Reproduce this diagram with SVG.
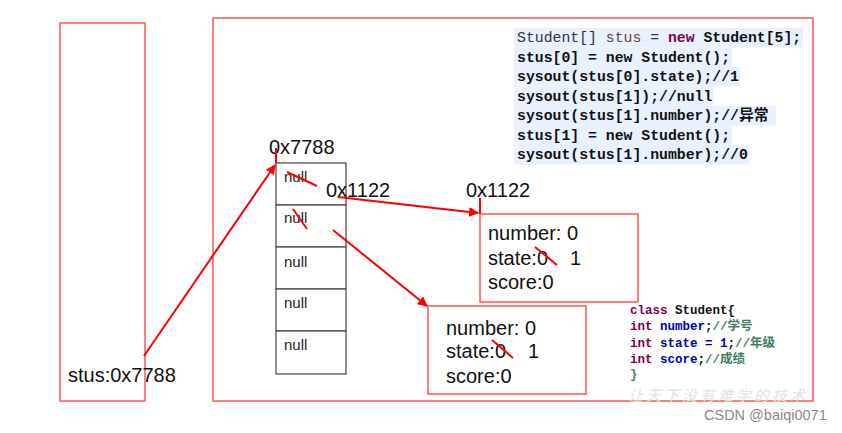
<svg xmlns="http://www.w3.org/2000/svg" width="842" height="433" viewBox="0 0 842 433">
<defs>
<marker id="ah" viewBox="0 0 10 10" refX="9" refY="5" markerWidth="5" markerHeight="5" orient="auto" markerUnits="strokeWidth">
<path d="M0,0 L10,5 L0,10 z" fill="#ff0000"/>
</marker>
<style>
.box{fill:none;stroke:#ff6060;stroke-width:1.6}
.cell{fill:#fff;stroke:#444;stroke-width:1.2}
.t{font-family:"Liberation Sans",Arial,sans-serif;font-size:20px;fill:#111}
.n{font-family:"Liberation Sans",Arial,sans-serif;font-size:15px;fill:#222}
.red{stroke:#ff0000;stroke-width:2;fill:none}
.code{font-family:"Liberation Mono","DejaVu Sans Mono","Noto Sans CJK SC",monospace;font-size:14.8px;font-weight:bold;fill:#111}
.cls{font-family:"Liberation Mono","DejaVu Sans Mono","Noto Sans CJK SC",monospace;font-size:12.5px;font-weight:bold;fill:#111}
.kw{fill:#7f0055}
.fld{fill:#0000c0}
.cm{fill:#3f7f5f}
.bg{fill:#e8f1fd}
</style>
</defs>
<rect width="842" height="433" fill="#fff"/>

<g id="stack">
<rect class="box" x="60" y="23" width="85" height="378"/>
<text class="t" x="68" y="382">stus:0x7788</text>
</g>

<g id="heap">
<rect class="box" x="213" y="18" width="600" height="383"/>
</g>

<g id="code">
<rect class="bg" x="514" y="28" width="289" height="19.5"/>
<rect class="bg" x="514" y="47.5" width="218" height="19.5"/>
<rect class="bg" x="514" y="67" width="226" height="19.5"/>
<rect class="bg" x="514" y="86.5" width="199" height="19.5"/>
<rect class="bg" x="514" y="106" width="262" height="19.5"/>
<rect class="bg" x="514" y="125.5" width="218" height="19.5"/>
<rect class="bg" x="514" y="145" width="235" height="19.5"/>
<text class="code" x="517" y="42"><tspan font-weight="normal" fill="#333">Student[] </tspan><tspan font-weight="normal" fill="#6a3e3e">stus</tspan><tspan font-weight="normal" fill="#333"> = </tspan><tspan class="kw">new</tspan> Student[5];</text>
<text class="code" x="517" y="61.5">stus[0] = new Student();</text>
<text class="code" x="517" y="81">sysout(stus[0].state);//1</text>
<text class="code" x="517" y="100.5">sysout(stus[1]);//null</text>
<text class="code" x="517" y="120">sysout(stus[1].number);//异常</text>
<text class="code" x="517" y="139.5">stus[1] = new Student();</text>
<text class="code" x="517" y="159">sysout(stus[1].number);//0</text>
</g>

<g id="array">
<text class="t" x="269" y="154">0x7788</text>
<rect class="cell" x="276" y="163" width="70" height="42"/>
<rect class="cell" x="276" y="205" width="70" height="42"/>
<rect class="cell" x="276" y="247" width="70" height="42"/>
<rect class="cell" x="276" y="289" width="70" height="42"/>
<rect class="cell" x="276" y="331" width="70" height="43"/>
<text class="n" x="284" y="182">null</text>
<text class="n" x="284" y="223">null</text>
<text class="n" x="284" y="267">null</text>
<text class="n" x="284" y="308">null</text>
<text class="n" x="284" y="350">null</text>
<line class="red" x1="287" y1="172" x2="317" y2="186"/>
<line class="red" x1="293" y1="209" x2="307" y2="229"/>
<text class="t" x="326" y="197">0x1122</text>
</g>

<g id="student1">
<text class="t" x="466" y="197">0x1122</text>
<rect class="box" x="480" y="214" width="158" height="88"/>
<text class="t" x="488" y="240">number: 0</text>
<text class="t" x="488" y="265">state:0</text>
<text class="t" x="570" y="265">1</text>
<text class="t" x="488" y="289">score:0</text>
<line class="red" x1="535" y1="247" x2="557" y2="265"/>
</g>

<g id="student2">
<rect class="box" x="428" y="306" width="158" height="88"/>
<text class="t" x="446" y="335">number: 0</text>
<text class="t" x="446" y="358">state:0</text>
<text class="t" x="528" y="358">1</text>
<text class="t" x="446" y="383">score:0</text>
<line class="red" x1="492" y1="340" x2="513" y2="358"/>
</g>

<g id="classdef">
<text class="cls" x="630" y="313.5"><tspan class="kw">class</tspan> Student{</text>
<text class="cls" x="630" y="330"><tspan class="kw">int</tspan> <tspan class="fld">number</tspan>;<tspan class="cm">//学号</tspan></text>
<text class="cls" x="630" y="346.5"><tspan class="kw">int</tspan> <tspan class="fld">state = 1</tspan>;<tspan class="cm">//年级</tspan></text>
<text class="cls" x="630" y="363"><tspan class="kw">int</tspan> <tspan class="fld">score</tspan>;<tspan class="cm">//成绩</tspan></text>
<text class="cls" x="630" y="378"><tspan class="cm">}</tspan></text>
</g>

<g id="watermark">
<text x="628" y="401" font-family="'Noto Sans CJK SC',sans-serif" font-size="15" font-style="italic" fill="#e2e2e2" letter-spacing="3">让天下没有难学的技术</text>
<text x="704" y="420" font-family="'Liberation Sans',Arial,sans-serif" font-size="14.5" fill="#888">CSDN @baiqi0071</text>
</g>

<g id="connectors">
<line class="red" x1="276" y1="148" x2="276" y2="163"/>
<line class="red" x1="144" y1="356" x2="275" y2="165" marker-end="url(#ah)"/>
<line class="red" x1="480" y1="198" x2="480" y2="214"/>
<line class="red" x1="338" y1="197" x2="478" y2="213" marker-end="url(#ah)"/>
<line class="red" x1="333" y1="230" x2="427" y2="306" marker-end="url(#ah)"/>
</g>
</svg>
